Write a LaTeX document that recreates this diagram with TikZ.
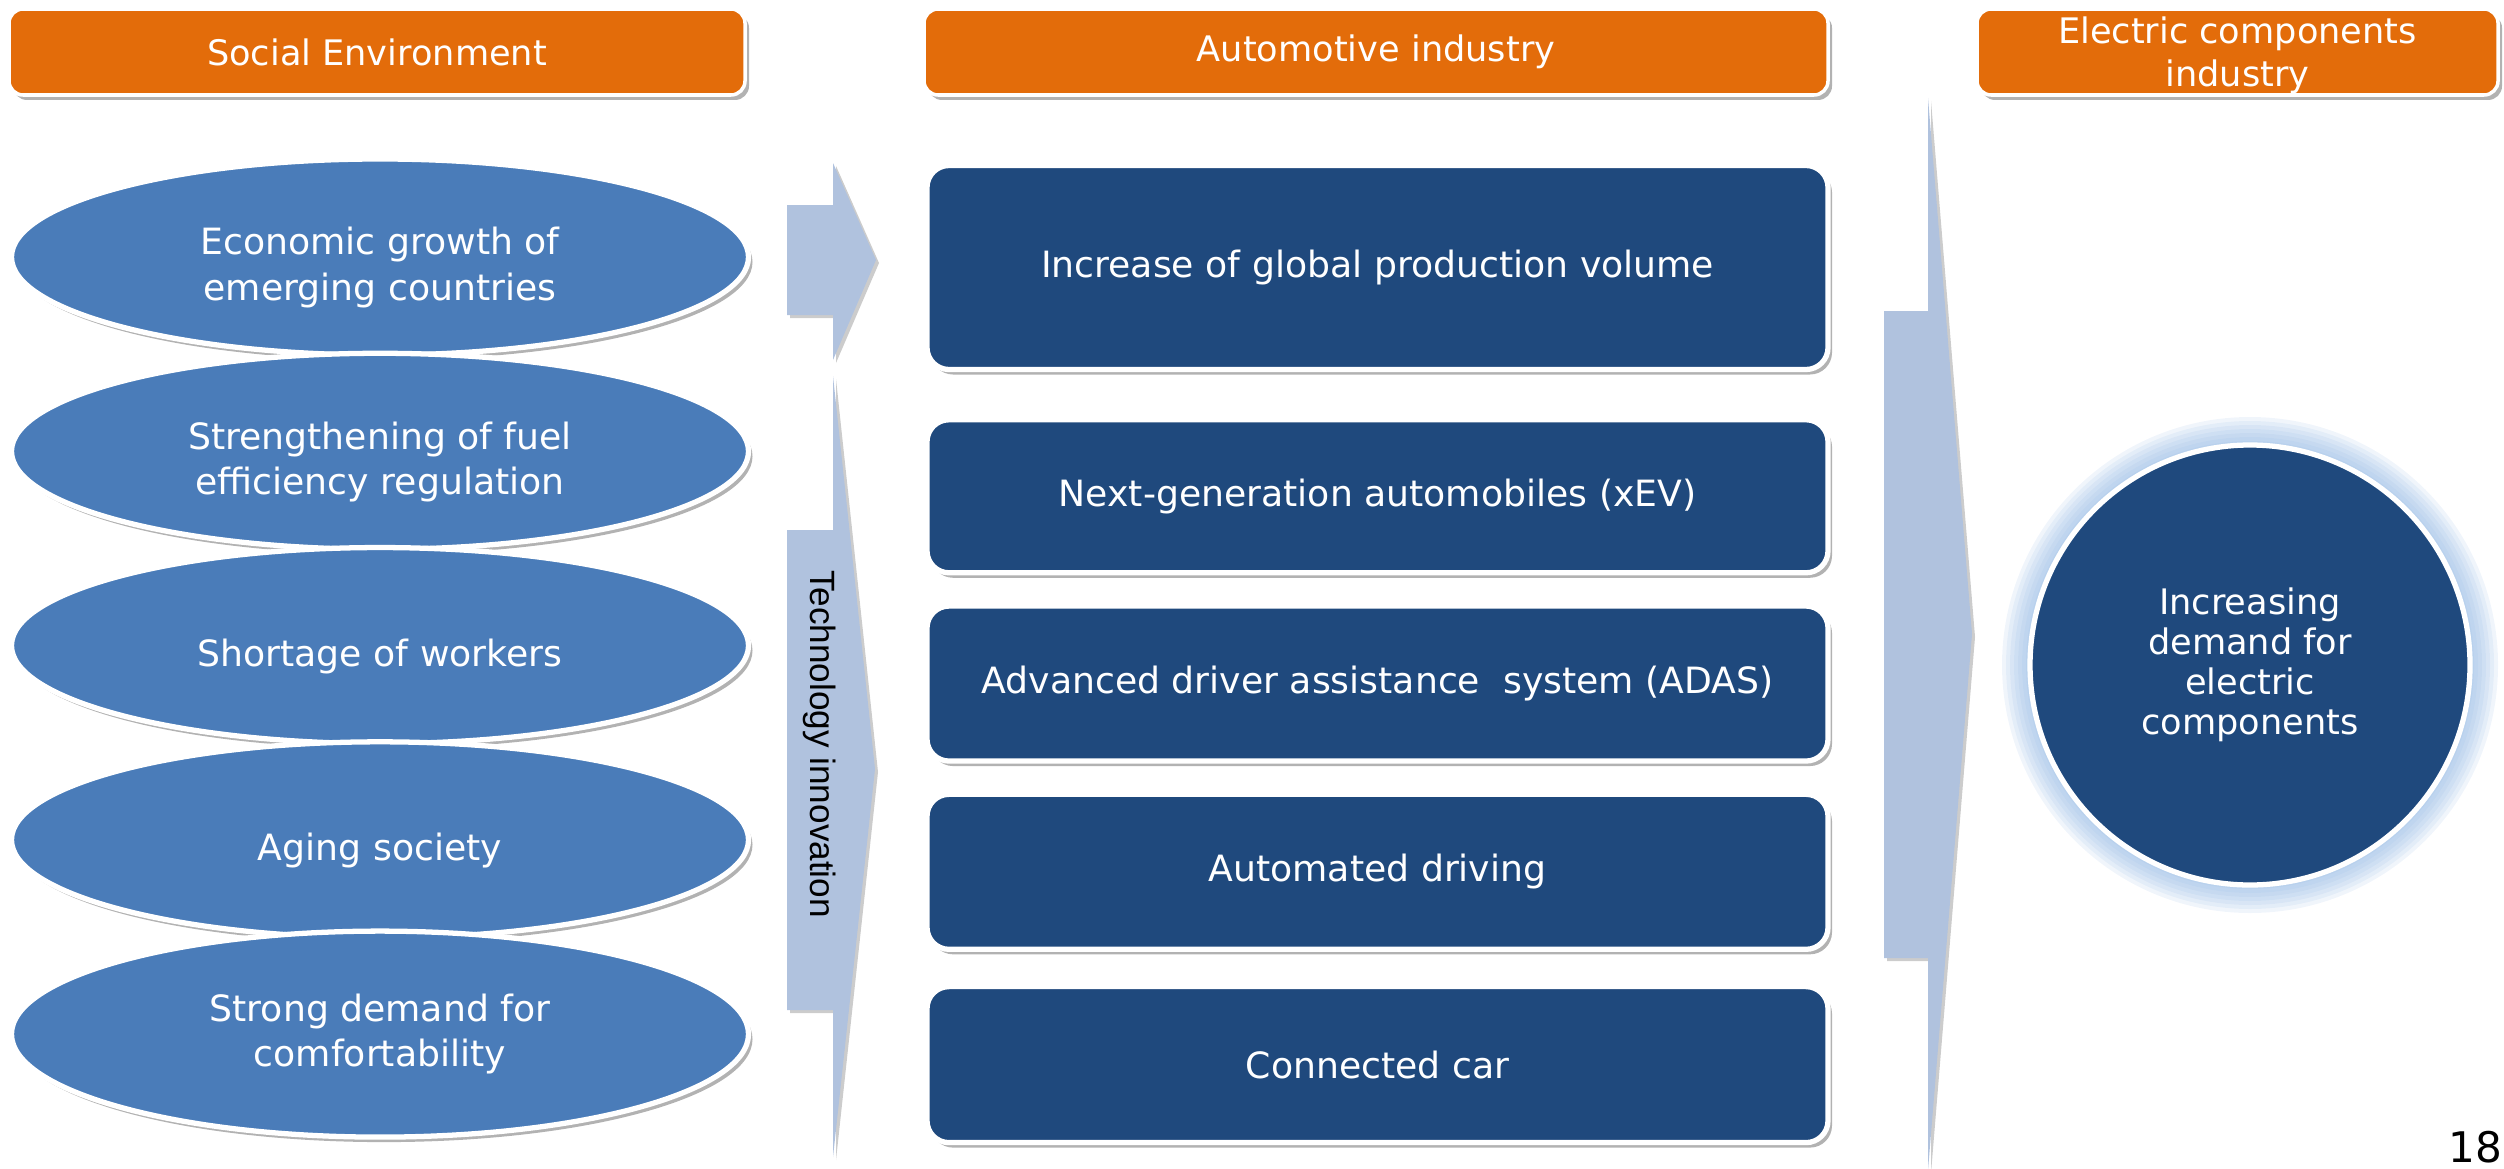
\documentclass[tikz,border=0pt]{standalone}
\usepackage{fontspec}
\setmainfont{DejaVu Sans}
\newfontfamily\arialfont{Liberation Sans}
\usetikzlibrary{positioning, shapes.geometric, shadows}
\definecolor{hdrorange}{HTML}{E36C0A}
\definecolor{causeblue}{HTML}{4A7CB9}
\definecolor{trendnavy}{HTML}{1F497D}
\definecolor{arrowfill}{HTML}{B0C2DE}
\definecolor{glowblue}{HTML}{8DB4E2}
% strut that sets the text a little low in its ellipse
\newcommand{\lowr}{\rule{0pt}{14pt}}

\begin{document}
\begin{tikzpicture}[
    font=\fontsize{10.3}{12.5}\selectfont,
    softshadow/.style={drop shadow={shadow xshift=0.04cm, shadow yshift=-0.05cm, fill=black, opacity=0.3}},
    header/.style={draw=white, line width=1pt, fill=hdrorange, rounded corners=4pt, text=white, minimum height=0.86cm, inner sep=1pt, align=center, font=\fontsize{10}{11.5}\selectfont, softshadow},
    cause/.style={ellipse, draw=white, line width=1.5pt, fill=causeblue, text=white, minimum width=7.37cm, minimum height=1.96cm, align=center, font=\fontsize{10.3}{13}\selectfont, softshadow},
    trend/.style={draw=white, line width=1.5pt, fill=trendnavy, rounded corners=0.22cm, text=white, minimum width=9.01cm, align=center, softshadow},
    blockarrow/.style={fill=arrowfill, drop shadow={shadow xshift=0.03cm, shadow yshift=-0.03cm, fill=black, opacity=0.2}}
]
\useasboundingbox (0,0) rectangle (25.04,11.68);

% headers
\node[header, minimum width=7.36cm] (hsoc) at (3.77,11.16) {Social Environment};
\node[header, minimum width=9.04cm] (hauto) at (13.76,11.16) {Automotive industry};
\node[header, minimum width=5.21cm, font=\fontsize{10}{12.2}\selectfont, text depth=0pt] (helec) at (22.375,11.16) {Electric components\\industry};

% social environment
\node[cause] (c1) at (3.80,9.11) {\lowr Economic growth of\\emerging countries};
\node[cause, below=-0.07cm of c1] (c2) {\lowr Strengthening of fuel\\efficiency regulation};
\node[cause, below=-0.07cm of c2] (c3) {\lowr Shortage of workers};
\node[cause, below=-0.07cm of c3] (c4) {\lowr Aging society};
\node[cause, minimum height=2.06cm, below=-0.12cm of c4] (c5) {Strong demand for\\comfortability};

% block arrows
\fill[blockarrow] (7.87,9.63) -- (8.33,9.63) -- (8.33,10.05) -- (8.76,9.08)
    -- (8.33,8.08) -- (8.33,8.53) -- (7.87,8.53) -- cycle;
\fill[blockarrow] (7.87,6.38) -- (8.33,6.38) -- (8.33,7.92) -- (8.75,3.99)
    -- (8.33,0.11) -- (8.33,1.58) -- (7.87,1.58) -- cycle;
\node[rotate=-90, font=\arialfont\fontsize{10}{12}\selectfont] (tech) at (8.20,4.24) {Technology innovation};
\fill[blockarrow] (18.84,8.57) -- (19.28,8.57) -- (19.28,10.70) -- (19.72,5.34)
    -- (19.28,-0.02) -- (19.28,2.10) -- (18.84,2.10) -- cycle;

% automotive industry
\node[trend, minimum height=2.04cm] (t1) at (13.775,9.005) {Increase of global production volume};
\node[trend, minimum height=1.53cm, below=0.45cm of t1] (t2) {Next-generation automobiles (xEV)};
\node[trend, minimum height=1.55cm, below=0.28cm of t2] (t3) {Advanced driver assistance~ system (ADAS)};
\node[trend, minimum height=1.55cm, below=0.28cm of t3] (t4) {Automated driving};
\node[trend, minimum height=1.56cm, below=0.32cm of t4] (t5) {Connected car};

% electric components
\coordinate (cc) at (22.50,5.03);
\foreach \g in {1,...,7}
    \fill[glowblue, opacity=0.13] (cc) circle ({2.2+0.04*\g});
\node[circle, draw=white, line width=1.5pt, fill=trendnavy, minimum size=4.40cm, text=white, align=center, font=\fontsize{10}{11.4}\selectfont] (demand) at (cc) {Increasing\\demand for\\electric\\components};

\node[font=\fontsize{12}{14}\selectfont] (pgnum) at (24.75,0.21) {18};
\end{tikzpicture}
\end{document}
